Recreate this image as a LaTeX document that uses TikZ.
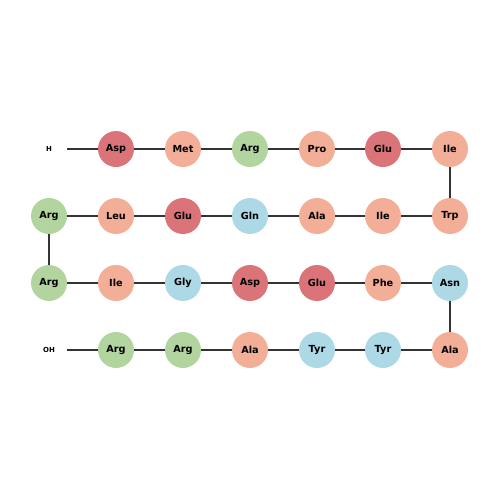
\documentclass[tikz,border=0pt]{standalone}
\usepackage{fontspec}
\setmainfont{DejaVu Sans}
\begin{document}
\begin{tikzpicture}[x=0.72pt,y=-0.72pt,
  res/.style={circle,minimum size=36*0.72pt,inner sep=0pt,font=\bfseries\fontsize{7}{8}\selectfont},
  acid/.style={res,fill=acidc},
  base/.style={res,fill=basec},
  hyd/.style={res,fill=hydc},
  pol/.style={res,fill=polc},
  term/.style={inner sep=0pt,font=\bfseries\fontsize{5}{6}\selectfont},
  bond/.style={draw=black!80,line width=0.75pt}]
\definecolor{acidc}{HTML}{DB7479}
\definecolor{basec}{HTML}{B2D49F}
\definecolor{hydc}{HTML}{F3AE97}
\definecolor{polc}{HTML}{ADD8E6}
\useasboundingbox (0,0) rectangle (500,500);
% row 1
\node[term] (h) at (49,149) {H};
\coordinate (hs) at (67,149);
\node[acid] (a1) at (116,149) {Asp};
\node[hyd] (a2) at (183,149) {Met};
\node[base] (a3) at (250,149) {Arg};
\node[hyd] (a4) at (317,149) {Pro};
\node[acid] (a5) at (383,149) {Glu};
\node[hyd] (a6) at (450,149) {Ile};
% row 2
\node[hyd] (a7) at (450,216) {Trp};
\node[hyd] (a8) at (383,216) {Ile};
\node[hyd] (a9) at (317,216) {Ala};
\node[pol] (a10) at (250,216) {Gln};
\node[acid] (a11) at (183,216) {Glu};
\node[hyd] (a12) at (116,216) {Leu};
\node[base] (a13) at (49,216) {Arg};
% row 3
\node[base] (a14) at (49,283) {Arg};
\node[hyd] (a15) at (116,283) {Ile};
\node[pol] (a16) at (183,283) {Gly};
\node[acid] (a17) at (250,283) {Asp};
\node[acid] (a18) at (317,283) {Glu};
\node[hyd] (a19) at (383,283) {Phe};
\node[pol] (a20) at (450,283) {Asn};
% row 4
\node[hyd] (a21) at (450,350) {Ala};
\node[pol] (a22) at (383,350) {Tyr};
\node[pol] (a23) at (317,350) {Tyr};
\node[hyd] (a24) at (250,350) {Ala};
\node[base] (a25) at (183,350) {Arg};
\node[base] (a26) at (116,350) {Arg};
\node[term] (oh) at (49,350) {OH};
\coordinate (ohs) at (67,350);
\begin{scope}[on background layer/.style={}]
\draw[bond] (hs) -- (a1);
\foreach \i [evaluate=\i as \j using int(\i+1)] in {1,...,25} {
  \draw[bond] (a\i) -- (a\j);
}
\draw[bond] (ohs) -- (a26);
\end{scope}
\end{tikzpicture}
\end{document}
